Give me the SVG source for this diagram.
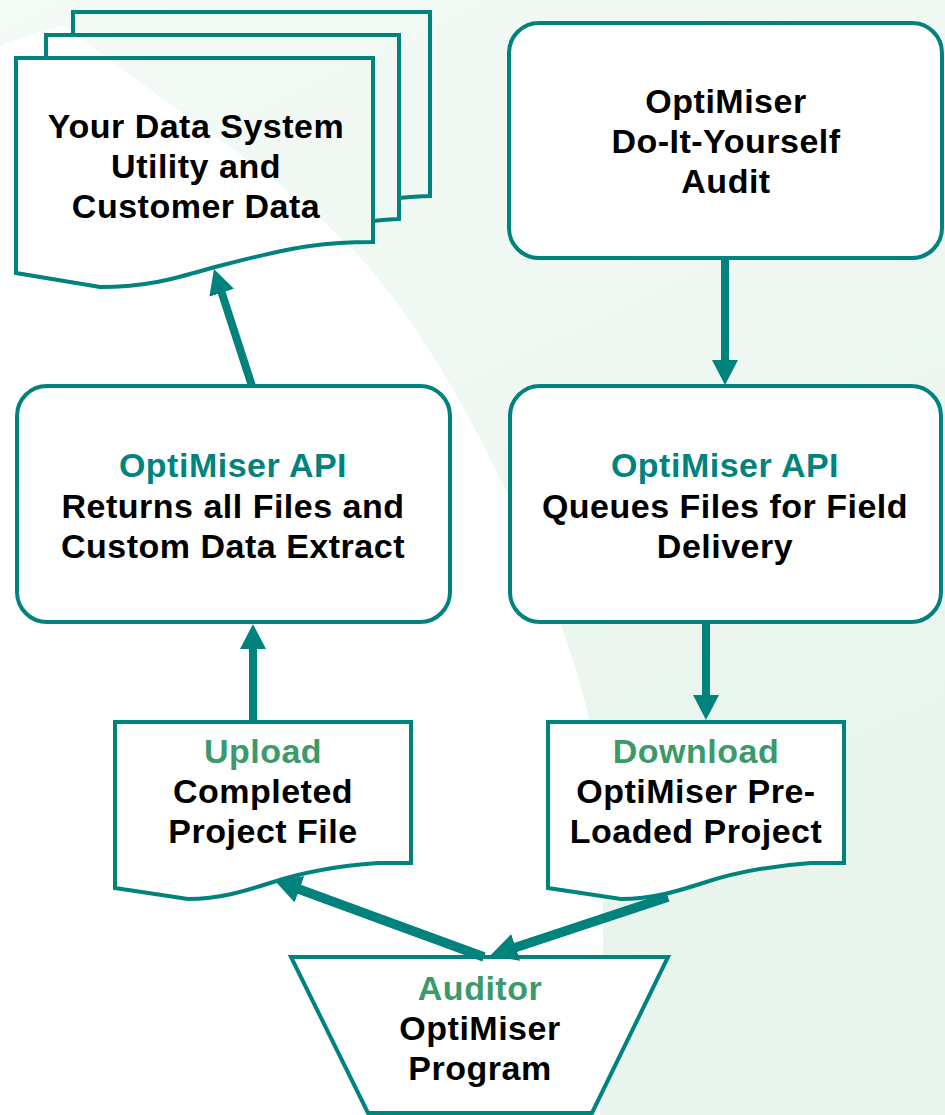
<svg xmlns="http://www.w3.org/2000/svg" width="945" height="1115" viewBox="0 0 945 1115">
<defs>
<linearGradient id="bg" x1="0" y1="0" x2="0.4" y2="1">
<stop offset="0" stop-color="#F4FAF6"/>
<stop offset="1" stop-color="#E8F4EC"/>
</linearGradient>
<marker id="ah" markerUnits="userSpaceOnUse" markerWidth="26" markerHeight="26" viewBox="0 0 26 26" refX="1" refY="13" orient="auto">
<path d="M0,0 L25,13 L0,26 Z" fill="#00827D"/>
</marker>
<marker id="ahb" markerUnits="userSpaceOnUse" markerWidth="28" markerHeight="28" viewBox="0 0 28 28" refX="1" refY="14" orient="auto">
<path d="M0,0 L27,14 L0,28 Z" fill="#00827D"/>
</marker>
</defs>
<style>
.shape{fill:#FFFFFF;stroke:#00827D;stroke-width:4;stroke-linejoin:miter}
.open{fill:none;stroke:#00827D;stroke-width:4}
.t{font-family:"Liberation Sans",Arial,sans-serif;font-weight:bold;font-size:34px;letter-spacing:0.5px;text-anchor:middle;fill:#000000}
.teal{fill:#00837E}
.grn{fill:#3A9A6A}
.conn{fill:none;stroke:#00827D;stroke-width:8}
.connb{fill:none;stroke:#00827D;stroke-width:9.5}
</style>
<g id="background">
<rect x="0" y="0" width="945" height="1115" fill="url(#bg)"/>
<path d="M0,46 C20,38 45,30 65,26 C130,80 260,160 340,237 C420,310 540,520 590,721 C605,800 605,950 600,1115 L0,1115 Z" fill="#FFFFFF"/>
</g>
<g id="node-data-system">
<path class="open" d="M73,35 V12 H430 V196 C420,196 410,197 399,198"/>
<path class="open" d="M46,58 V35 H399 V219 C390,219 382,220 373,221"/>
<path class="open" d="M16,58 H373 V242 C350,242 330,243 310,246 C280,250 250,258 215,267 C180,277 150,287 100,287 L16,273 Z"/>
<text class="t" x="196" y="138">Your Data System</text>
<text class="t" x="196" y="178">Utility and</text>
<text class="t" x="196" y="218">Customer Data</text>
</g>
<g id="node-diy-audit">
<rect class="shape" x="509" y="23" width="433" height="235" rx="30" ry="30"/>
<text class="t" x="726" y="113">OptiMiser</text>
<text class="t" x="726" y="153">Do-It-Yourself</text>
<text class="t" x="726" y="193">Audit</text>
</g>
<g id="node-api-left">
<rect class="shape" x="17" y="386" width="433" height="236" rx="30" ry="30"/>
<text class="t teal" x="233" y="477">OptiMiser API</text>
<text class="t" x="233" y="518">Returns all Files and</text>
<text class="t" x="233" y="558">Custom Data Extract</text>
</g>
<g id="node-api-right">
<rect class="shape" x="510" y="386" width="431" height="236" rx="30" ry="30"/>
<text class="t teal" x="725" y="477">OptiMiser API</text>
<text class="t" x="725" y="518">Queues Files for Field</text>
<text class="t" x="725" y="558">Delivery</text>
</g>
<g id="node-upload">
<path class="shape" d="M115,722 H411 V863 H378 C335,866 300,873 270,883 C245,891 220,899 188,899 L115,888 Z"/>
<text class="t grn" x="263" y="763">Upload</text>
<text class="t" x="263" y="803">Completed</text>
<text class="t" x="263" y="843">Project File</text>
</g>
<g id="node-download">
<path class="shape" d="M548,722 H844 V863 H811 C768,866 733,873 703,883 C678,891 653,899 621,899 L548,888 Z"/>
<text class="t grn" x="696" y="763">Download</text>
<text class="t" x="696" y="803">OptiMiser Pre-</text>
<text class="t" x="696" y="843">Loaded Project</text>
</g>
<g id="node-auditor">
<path class="shape" d="M291,957 H668 L592,1113 H368 Z"/>
<text class="t grn" x="480" y="1000">Auditor</text>
<text class="t" x="480" y="1040">OptiMiser</text>
<text class="t" x="480" y="1080">Program</text>
</g>
<g id="connectors">
<line class="conn" x1="252" y1="386" x2="221.4" y2="291.8" marker-end="url(#ah)"/>
<line class="conn" x1="725" y1="258" x2="725" y2="361" marker-end="url(#ah)"/>
<line class="conn" x1="253" y1="720" x2="253" y2="648" marker-end="url(#ah)"/>
<line class="conn" x1="706" y1="622" x2="706" y2="696" marker-end="url(#ah)"/>
<line class="connb" x1="484" y1="957" x2="298.5" y2="889" marker-end="url(#ahb)"/>
<line class="connb" x1="668" y1="897" x2="514.7" y2="947.7" marker-end="url(#ahb)"/>
</g>
</svg>
